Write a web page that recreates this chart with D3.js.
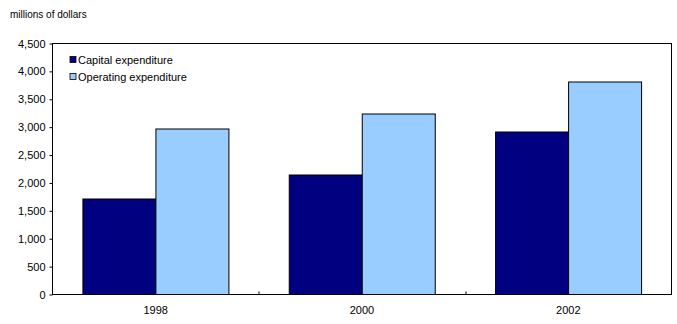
<!DOCTYPE html>
<html>
<head>
<meta charset="utf-8">
<script src="https://cdn.jsdelivr.net/npm/d3@7"></script>
<style>
  body { margin: 0; background: #fff; }
  text { font-family: "Liberation Sans", Arial, sans-serif; fill: #000; }
</style>
</head>
<body>
<script>
// chart data
var years = ["1998", "2000", "2002"];
var seriesNames = ["Capital expenditure", "Operating expenditure"];
var capital = [1725, 2155, 2930];
var operating = [2980, 3245, 3810];
var yTicks = [0, 500, 1000, 1500, 2000, 2500, 3000, 3500, 4000, 4500];
var colors = ["#000080", "#99ccff"];

window.onload = function(){
  var w = 677, h = 324;
  var margin = {top: 43.5, right: 5.5, bottom: 29.5, left: 52.5};
  var iw = w - margin.left - margin.right, ih = h - margin.top - margin.bottom;

  var svg = d3.select("body").append("svg")
    .attr("width", w)
    .attr("height", h);

  svg.append("text")
    .attr("x", 10)
    .attr("y", 18)
    .style("font-size", "10px")
    .text("millions of dollars");

  var g = svg.append("g").attr("transform", "translate(" + margin.left + "," + margin.top + ")");

  var x0 = d3.scaleBand().domain(years).range([0, iw]).paddingInner(0.29).paddingOuter(0.145);
  var bands = d3.scaleBand().domain(years).range([0, iw]);
  var x1 = d3.scaleBand().domain(seriesNames).range([0, x0.bandwidth()]);
  var y = d3.scaleLinear().domain([0, 4500]).range([ih, 0]);

  var rows = years.map(function(d, i){
    return {year: d, values: [capital[i], operating[i]]};
  });

  // bars
  var grp = g.selectAll(".grp").data(rows).enter().append("g")
    .attr("transform", function(d){ return "translate(" + x0(d.year) + ",0)"; });
  grp.selectAll("rect").data(function(d){
      return d.values.map(function(v, j){ return {name: seriesNames[j], v: v, c: colors[j]}; });
    }).enter().append("rect")
    .attr("x", function(d){ return Math.round(x1(d.name)) + 0.5; })
    .attr("y", function(d){ return Math.round(y(d.v)) + 0.5; })
    .attr("width", function(d){ return Math.round(x1.bandwidth()); })
    .attr("height", function(d){ return ih - Math.round(y(d.v)) - 0.5; })
    .style("fill", function(d){ return d.c; })
    .style("stroke", "#000")
    .style("stroke-width", 1);

  // frame
  g.append("rect")
    .attr("width", iw)
    .attr("height", ih)
    .style("fill", "none")
    .style("stroke", "#000");

  // y axis
  var yAxis = g.append("g").call(d3.axisLeft(y).tickValues(yTicks).tickSize(3).tickFormat(d3.format(",")));
  yAxis.select(".domain").remove();
  yAxis.selectAll("text").style("font-size", "11px").attr("x", -7);

  // x axis: ticks between categories, pointing up
  var xg = g.append("g").attr("transform", "translate(0," + ih + ")");
  xg.selectAll("line").data(years.slice(1)).enter().append("line")
    .attr("x1", function(d){ return Math.round(bands(d)) + 0.5; })
    .attr("x2", function(d){ return Math.round(bands(d)) + 0.5; })
    .attr("y1", 0).attr("y2", -3)
    .style("stroke", "#000");
  xg.selectAll("text").data(years).enter().append("text")
    .attr("x", function(d){ return bands(d) + bands.bandwidth() / 2; })
    .attr("y", 19)
    .attr("text-anchor", "middle")
    .style("font-size", "11px")
    .text(function(d){ return d; });

  // legend
  var leg = g.selectAll(".leg").data(seriesNames).enter().append("g")
    .attr("transform", function(d, i){ return "translate(17.5," + (13 + i * 17) + ")"; });
  leg.append("rect")
    .attr("width", 6).attr("height", 6)
    .style("fill", function(d, i){ return colors[i]; })
    .style("stroke", "#000").style("stroke-width", 0.8);
  leg.append("text")
    .attr("x", 8)
    .attr("y", 7)
    .style("font-size", "11px")
    .text(function(d){ return d; });
};
</script>
</body>
</html>
